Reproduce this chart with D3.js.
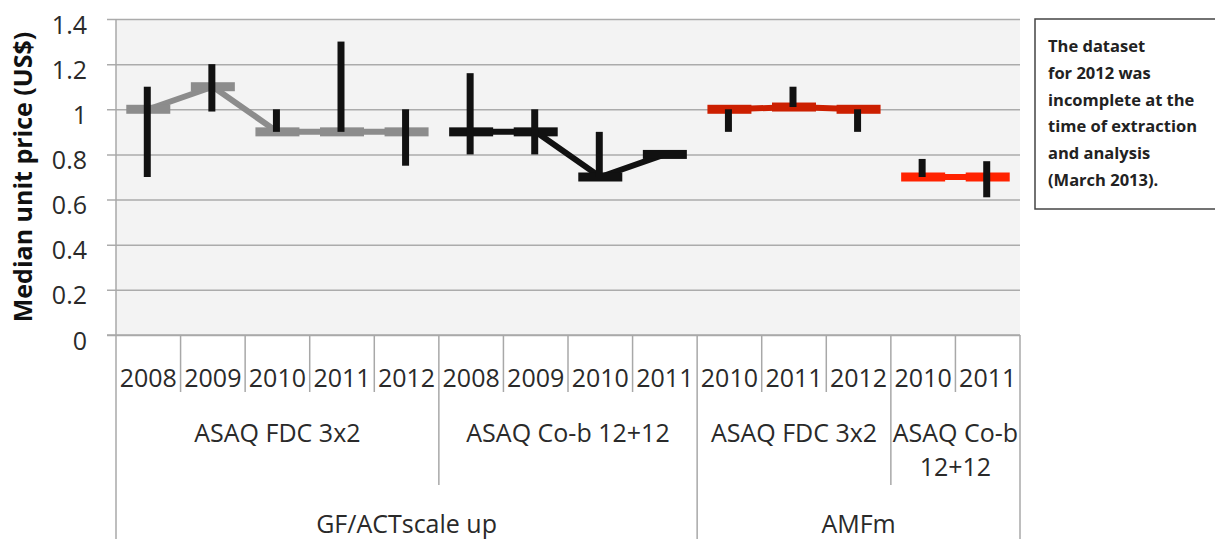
<!DOCTYPE html>
<html>
<head>
<meta charset="utf-8">
<script src="https://cdn.jsdelivr.net/npm/d3@7"></script>
<style>
    body { margin: 0; background: #fff; }
    svg { display: block; font-family: 'Open Sans', sans-serif; }
</style>
</head>
<body>
<div id="price-chart"></div>
<script>
// category axis, three levels
let years = ['2008', '2009', '2010', '2011', '2012', '2008', '2009', '2010', '2011', '2010', '2011', '2012', '2010', '2011'];
let products = ['ASAQ FDC 3x2', 'ASAQ Co-b 12+12', 'ASAQ FDC 3x2', 'ASAQ Co-b 12+12'];
let productSpans = [5, 4, 3, 2];
let programmes = ['GF/ACTscale up', 'AMFm'];
let programmeSpans = [9, 5];
let yTicks = [0, 0.2, 0.4, 0.6, 0.8, 1, 1.2, 1.4];

// median unit price and whiskers, one list per series
let gfFdcMedian = [1.0, 1.1, 0.9, 0.9, 0.9];
let gfFdcLow = [0.7, 0.99, 0.9, 0.9, 0.75];
let gfFdcHigh = [1.1, 1.2, 1.0, 1.3, 1.0];

let gfCobMedian = [0.9, 0.9, 0.7, 0.8];
let gfCobLow = [0.8, 0.8, 0.7, 0.8];
let gfCobHigh = [1.16, 1.0, 0.9, 0.8];

let amfFdcMedian = [1.0, 1.01, 1.0];
let amfFdcLow = [0.9, 1.01, 0.9];
let amfFdcHigh = [1.0, 1.1, 1.0];

let amfCobMedian = [0.7, 0.7];
let amfCobLow = [0.7, 0.61];
let amfCobHigh = [0.78, 0.77];

let note = ['The dataset', 'for 2012 was', 'incomplete at the', 'time of extraction', 'and analysis', '(March 2013).'];

let series = [
    { start: 0, median: gfFdcMedian, low: gfFdcLow, high: gfFdcHigh, color: '#8c8c8c' },
    { start: 5, median: gfCobMedian, low: gfCobLow, high: gfCobHigh, color: '#111111' },
    { start: 9, median: amfFdcMedian, low: amfFdcLow, high: amfFdcHigh, color: '#cc1f00' },
    { start: 12, median: amfCobMedian, low: amfCobLow, high: amfCobHigh, color: '#ff2200' }
];

let width = 1215;
let height = 539;
let margin = { top: 19, right: 195, bottom: 204, left: 116 };

let x = d3.scaleBand()
    .domain(d3.range(years.length))
    .range([margin.left, width - margin.right])
    .padding(0);

let y = d3.scaleLinear()
    .domain([0, 1.4])
    .range([height - margin.bottom, margin.top]);

let svg = d3.select('#price-chart').append('svg')
    .attr('width', width)
    .attr('height', height);

// plot background
svg.append('rect')
    .attr('x', x.range()[0])
    .attr('y', y(1.4))
    .attr('width', x.range()[1] - x.range()[0])
    .attr('height', y(0) - y(1.4))
    .attr('fill', '#f3f3f3');

// gridlines (stick out a little left of the axis)
svg.append('g')
    .attr('transform', `translate(${margin.left - 9},0)`)
    .call(d3.axisLeft(y).tickValues(yTicks).tickSize(-(x.range()[1] - margin.left + 9)).tickFormat(''))
    .call(g => g.select('.domain').remove())
    .call(g => g.selectAll('line').attr('stroke', '#ababab').attr('stroke-width', 1.5));

// y tick labels
svg.append('g')
    .attr('transform', `translate(${margin.left - 9},0)`)
    .call(d3.axisLeft(y).tickValues(yTicks).tickSize(0).tickPadding(20).tickFormat(d => String(+d.toFixed(1))))
    .call(g => g.select('.domain').remove())
    .call(g => g.selectAll('text')
        .attr('font-family', 'Open Sans, sans-serif')
        .attr('font-size', 25)
        .attr('fill', '#2a2a2a')
        .attr('dy', '0.56em'));

// y title
svg.append('text')
    .attr('transform', `translate(32,${(y(0) + y(1.4)) / 2}) rotate(-90)`)
    .attr('text-anchor', 'middle')
    .attr('font-size', 25)
    .attr('font-weight', 700)
    .attr('fill', '#111')
    .text('Median unit price (US$)');

// category axis lines
let axisColor = '#a8a8a8';
let cat = svg.append('g').attr('stroke', axisColor).attr('stroke-width', 1.5);

cat.append('line')
    .attr('x1', margin.left - 9).attr('x2', x.range()[1])
    .attr('y1', y(0)).attr('y2', y(0));

let productStarts = d3.cumsum([0].concat(productSpans)).slice(0, -1);
let programmeStarts = d3.cumsum([0].concat(programmeSpans)).slice(0, -1);
let bandEdge = i => i < years.length ? x(i) : x.range()[1];

d3.range(years.length + 1).forEach(i => {
    let bottom = 392;
    if (productStarts.includes(i)) bottom = 485;
    if (programmeStarts.includes(i) || i === years.length) bottom = height;
    cat.append('line')
        .attr('x1', bandEdge(i)).attr('x2', bandEdge(i))
        .attr('y1', i === 0 ? y(1.4) : y(0)).attr('y2', bottom);
});

let labelStyle = sel => sel
    .attr('text-anchor', 'middle')
    .attr('font-size', 25)
    .attr('fill', '#2a2a2a');

svg.append('g').selectAll('text')
    .data(years)
    .join('text')
        .attr('x', (d, i) => x(i) + x.bandwidth() / 2)
        .attr('y', 387)
        .call(labelStyle)
        .text(d => d);

// product labels, wrapped when wider than their span
products.forEach((name, k) => {
    let x0 = bandEdge(productStarts[k]);
    let x1 = bandEdge(productStarts[k] + productSpans[k]);
    let t = svg.append('text')
        .attr('x', (x0 + x1) / 2)
        .attr('y', 442)
        .call(labelStyle)
        .text(name);
    if (t.node().getComputedTextLength() > x1 - x0 - 4) {
        let words = name.split(' ');
        let lines = [words.slice(0, 2).join(' '), words.slice(2).join(' ')];
        t.text(null);
        lines.forEach((l, j) => {
            t.append('tspan')
                .attr('x', (x0 + x1) / 2)
                .attr('dy', j === 0 ? 0 : 34)
                .text(l);
        });
    }
});

programmes.forEach((name, k) => {
    let x0 = bandEdge(programmeStarts[k]);
    let x1 = bandEdge(programmeStarts[k] + programmeSpans[k]);
    svg.append('text')
        .attr('x', (x0 + x1) / 2)
        .attr('y', 533)
        .call(labelStyle)
        .text(name);
});

// series: connecting line, dash markers, whiskers
let cx = i => x(i) + x.bandwidth() / 2;

series.forEach(s => {
    let pts = s.median.map((v, j) => ({ i: s.start + j, v: v, lo: s.low[j], hi: s.high[j] }));
    let g = svg.append('g');

    g.append('path')
        .datum(pts)
        .attr('fill', 'none')
        .attr('stroke', s.color)
        .attr('stroke-width', 6)
        .attr('d', d3.line().x(d => cx(d.i)).y(d => y(d.v)));

    g.selectAll('rect')
        .data(pts)
        .join('rect')
            .attr('x', d => cx(d.i) - 22)
            .attr('y', d => y(d.v) - 4.5)
            .attr('width', 44)
            .attr('height', 9)
            .attr('fill', s.color);
});

series.forEach(s => {
    let pts = s.median.map((v, j) => ({ i: s.start + j, lo: s.low[j], hi: s.high[j] }));
    svg.append('g').selectAll('line')
        .data(pts.filter(d => d.hi > d.lo))
        .join('line')
            .attr('x1', d => cx(d.i) - 1).attr('x2', d => cx(d.i) - 1)
            .attr('y1', d => y(d.hi)).attr('y2', d => y(d.lo))
            .attr('stroke', '#111')
            .attr('stroke-width', 7);
});

// note box
let box = svg.append('g').attr('transform', 'translate(1035,19)');
box.append('rect')
    .attr('width', 200)
    .attr('height', 190)
    .attr('fill', '#fff')
    .attr('stroke', '#444')
    .attr('stroke-width', 1.5);

box.selectAll('text')
    .data(note)
    .join('text')
        .attr('x', 13)
        .attr('y', (d, i) => 33 + i * 26.8)
        .attr('font-size', 16.5)
        .attr('font-weight', 700)
        .attr('fill', '#222')
        .text(d => d);
</script>
</body>
</html>
